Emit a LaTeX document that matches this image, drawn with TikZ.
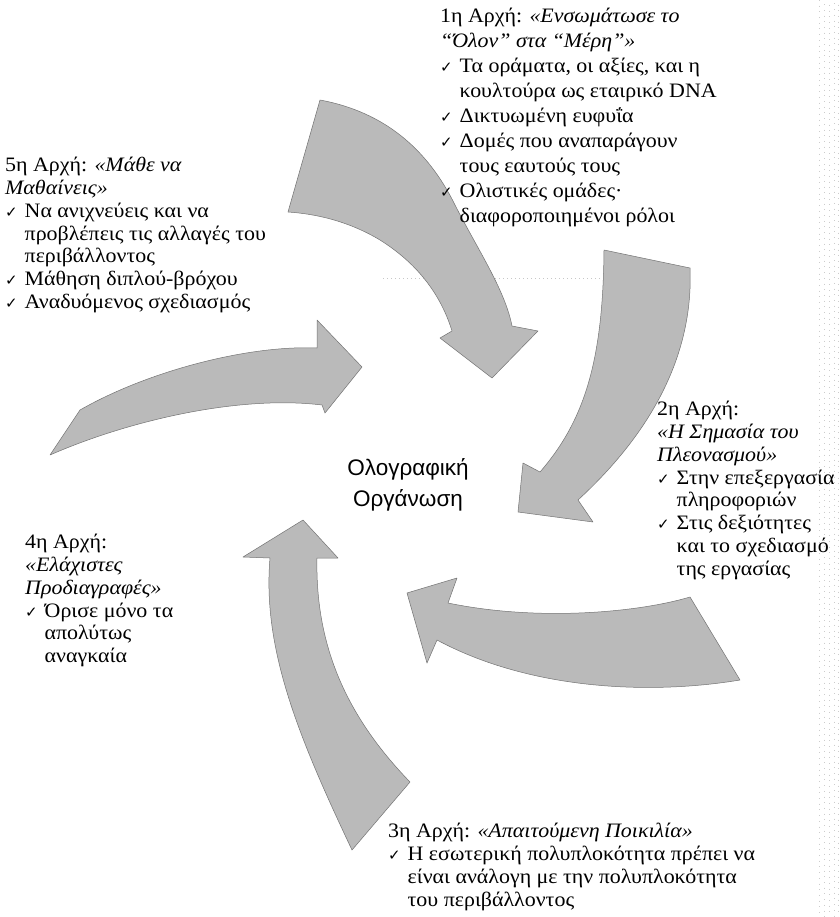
\documentclass[tikz,border=0pt]{standalone}
\usepackage{fontspec}
\setmainfont[FakeStretch=1.07]{Liberation Serif}
\newfontfamily\titlefont{Liberation Sans}
\newfontfamily\symfont{DejaVu Sans}

% check mark and the hanging indent that lines up with it
\newcommand\ck{\makebox[0.95em][l]{\symfont\fontsize{15}{15}\selectfont ✓}}
\newcommand\ind{\hspace*{0.95em}}

\tikzset{
  bigarrow/.style={fill=black!27, draw=black!55, line width=0.5pt, line join=round},
  principle/.style={anchor=north west, align=left, inner sep=0pt,
    font=\fontsize{20.5}{22.8}\selectfont},
  looser/.style={font=\fontsize{20.5}{25}\selectfont},
  centre/.style={align=center, inner sep=0pt,
    font=\titlefont\fontsize{22.5}{31}\selectfont},
  scanline/.style={black!22, line width=0.6pt, dash pattern=on 0.8pt off 3.2pt}
}

\begin{document}
\begin{tikzpicture}[x=1pt, y=-1pt]
\useasboundingbox[fill=white] (0,0) rectangle (839,917);

% faint scan marks
\draw[scanline] (383,278) -- (603,278);
\foreach \xx/\ph in {819/0, 824/1.5, 829/0.7, 834/2.2, 838/1.1}
  \draw[black!20, line width=0.7pt, dash pattern=on 0.7pt off 5pt, dash phase=\ph pt] (\xx,0) -- (\xx,917);

% arrow 1 : top, sweeping down towards the centre
\draw[bigarrow] (320,100)
  .. controls (385,112) and (428,150) .. (455,205)
  .. controls (478,250) and (505,290) .. (512,326)
  -- (538,331) -- (492,378) -- (440,338) -- (452,331)
  .. controls (440,292) and (415,262) .. (380,240)
  .. controls (350,222) and (318,214) .. (288,212) -- cycle;

% arrow 2 : right, sweeping down and to the left
\draw[bigarrow] (604,250) -- (690,268)
  .. controls (693,340) and (665,420) .. (578,500)
  -- (593,522) -- (518,512) -- (523,463) -- (540,472)
  .. controls (585,420) and (603,360) .. (604,250) -- cycle;

% arrow 3 : lower right, sweeping left
\draw[bigarrow] (690,597) -- (740,680)
  .. controls (650,695) and (530,690) .. (437,640)
  -- (427,663) -- (407,593) -- (457,578) -- (448,603)
  .. controls (540,622) and (640,612) .. (690,597) -- cycle;

% arrow 4 : bottom, sweeping up
\draw[bigarrow] (410,782) -- (352,850)
  .. controls (300,740) and (262,650) .. (270,558)
  -- (243,557) -- (303,520) -- (338,558) -- (317,558)
  .. controls (315,650) and (350,720) .. (410,782) -- cycle;

% arrow 5 : left, sweeping right
\draw[bigarrow] (50,455) -- (80,410)
  .. controls (150,370) and (250,345) .. (317,348)
  -- (317,320) -- (362,367) -- (325,413) -- (322,405)
  .. controls (240,395) and (130,420) .. (50,455) -- cycle;

% centre
\node[centre] (hub) at (408,485) {Ολογραφική\\Οργάνωση};

% the five principles
\node[principle, looser] (p1) at (440,8) {1η Αρχή: \textit{«Ενσωμάτωσε το}\\
  \textit{“Όλον” στα “Μέρη”»}\\
  \ck Τα οράματα, οι αξίες, και η\\
  \ind κουλτούρα ως εταιρικό DNA\\
  \ck Δικτυωμένη ευφυΐα\\
  \ck Δομές που αναπαράγουν\\
  \ind τους εαυτούς τους\\
  \ck Ολιστικές ομάδες·\\
  \ind διαφοροποιημένοι ρόλοι};

\node[principle] (p2) at (657,401) {2η Αρχή:\\
  \textit{«Η Σημασία του}\\
  \textit{Πλεονασμού»}\\
  \ck Στην επεξεργασία\\
  \ind πληροφοριών\\
  \ck Στις δεξιότητες\\
  \ind και το σχεδιασμό\\
  \ind της εργασίας};

\node[principle] (p3) at (388,823) {3η Αρχή: \textit{«Απαιτούμενη Ποικιλία»}\\
  \ck Η εσωτερική πολυπλοκότητα πρέπει να\\
  \ind είναι ανάλογη με την πολυπλοκότητα\\
  \ind του περιβάλλοντος};

\node[principle] (p4) at (25,534) {4η Αρχή:\\
  \textit{«Ελάχιστες}\\
  \textit{Προδιαγραφές»}\\
  \ck Όρισε μόνο τα\\
  \ind απολύτως\\
  \ind αναγκαία};

\node[principle] (p5) at (5,157) {5η Αρχή: \textit{«Μάθε να}\\
  \textit{Μαθαίνεις»}\\
  \ck Να ανιχνεύεις και να\\
  \ind προβλέπεις τις αλλαγές του\\
  \ind περιβάλλοντος\\
  \ck Μάθηση διπλού-βρόχου\\
  \ck Αναδυόμενος σχεδιασμός};
\end{tikzpicture}
\end{document}
